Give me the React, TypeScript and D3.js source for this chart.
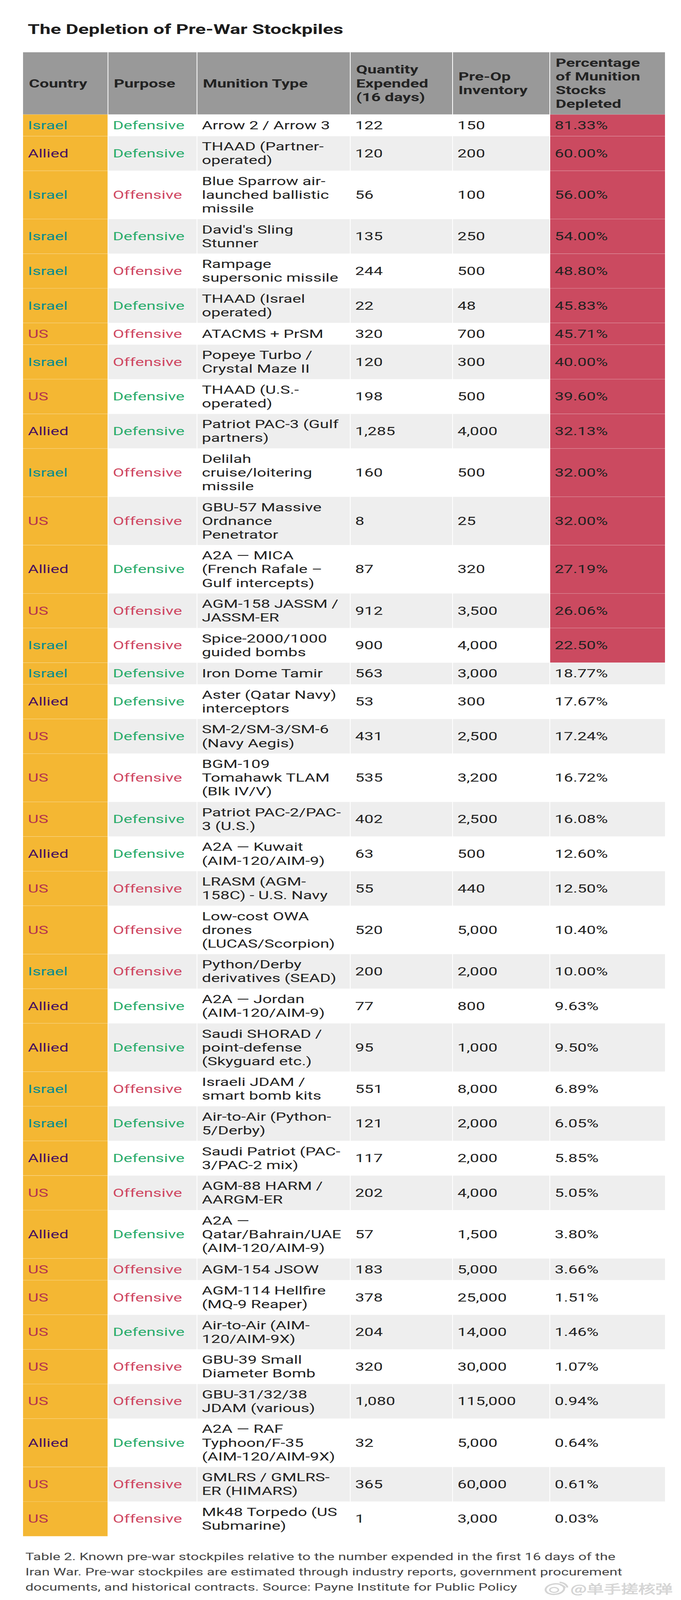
import React, { useEffect, useRef } from 'react';
import * as d3 from 'd3';

const title = 'The Depletion of Pre-War Stockpiles';

const headers = [
  ['Country'],
  ['Purpose'],
  ['Munition Type'],
  ['Quantity', 'Expended', '(16 days)'],
  ['Pre-Op', 'Inventory'],
  ['Percentage', 'of Munition', 'Stocks', 'Depleted'],
];

const countries = [
  'Israel', 'Allied', 'Israel', 'Israel', 'Israel', 'Israel', 'US', 'Israel', 'US', 'Allied',
  'Israel', 'US', 'Allied', 'US', 'Israel', 'Israel', 'Allied', 'US', 'US', 'US',
  'Allied', 'US', 'US', 'Israel', 'Allied', 'Allied', 'Israel', 'Israel', 'Allied', 'US',
  'Allied', 'US', 'US', 'US', 'US', 'US', 'Allied', 'US', 'US',
];

const purposes = [
  'Defensive', 'Defensive', 'Offensive', 'Defensive', 'Offensive', 'Defensive', 'Offensive', 'Offensive', 'Defensive', 'Defensive',
  'Offensive', 'Offensive', 'Defensive', 'Offensive', 'Offensive', 'Defensive', 'Defensive', 'Defensive', 'Offensive', 'Defensive',
  'Defensive', 'Offensive', 'Offensive', 'Offensive', 'Defensive', 'Defensive', 'Offensive', 'Defensive', 'Defensive', 'Offensive',
  'Defensive', 'Offensive', 'Offensive', 'Defensive', 'Offensive', 'Offensive', 'Defensive', 'Offensive', 'Offensive',
];

const munitions = [
  ['Arrow 2 / Arrow 3'],
  ['THAAD (Partner-', 'operated)'],
  ['Blue Sparrow air-', 'launched ballistic', 'missile'],
  ["David's Sling", 'Stunner'],
  ['Rampage', 'supersonic missile'],
  ['THAAD (Israel', 'operated)'],
  ['ATACMS + PrSM'],
  ['Popeye Turbo /', 'Crystal Maze II'],
  ['THAAD (U.S.-', 'operated)'],
  ['Patriot PAC-3 (Gulf', 'partners)'],
  ['Delilah', 'cruise/loitering', 'missile'],
  ['GBU-57 Massive', 'Ordnance', 'Penetrator'],
  ['A2A — MICA', '(French Rafale –', 'Gulf intercepts)'],
  ['AGM-158 JASSM /', 'JASSM-ER'],
  ['Spice-2000/1000', 'guided bombs'],
  ['Iron Dome Tamir'],
  ['Aster (Qatar Navy)', 'interceptors'],
  ['SM-2/SM-3/SM-6', '(Navy Aegis)'],
  ['BGM-109', 'Tomahawk TLAM', '(Blk IV/V)'],
  ['Patriot PAC-2/PAC-', '3 (U.S.)'],
  ['A2A — Kuwait', '(AIM-120/AIM-9)'],
  ['LRASM (AGM-', '158C) - U.S. Navy'],
  ['Low-cost OWA', 'drones', '(LUCAS/Scorpion)'],
  ['Python/Derby', 'derivatives (SEAD)'],
  ['A2A — Jordan', '(AIM-120/AIM-9)'],
  ['Saudi SHORAD /', 'point-defense', '(Skyguard etc.)'],
  ['Israeli JDAM /', 'smart bomb kits'],
  ['Air-to-Air (Python-', '5/Derby)'],
  ['Saudi Patriot (PAC-', '3/PAC-2 mix)'],
  ['AGM-88 HARM /', 'AARGM-ER'],
  ['A2A —', 'Qatar/Bahrain/UAE', '(AIM-120/AIM-9)'],
  ['AGM-154 JSOW'],
  ['AGM-114 Hellfire', '(MQ-9 Reaper)'],
  ['Air-to-Air (AIM-', '120/AIM-9X)'],
  ['GBU-39 Small', 'Diameter Bomb'],
  ['GBU-31/32/38', 'JDAM (various)'],
  ['A2A — RAF', 'Typhoon/F-35', '(AIM-120/AIM-9X)'],
  ['GMLRS / GMLRS-', 'ER (HIMARS)'],
  ['Mk48 Torpedo (US', 'Submarine)'],
];

const expended = [
  122, 120, 56, 135, 244, 22, 320, 120, 198, 1285,
  160, 8, 87, 912, 900, 563, 53, 431, 535, 402,
  63, 55, 520, 200, 77, 95, 551, 121, 117, 202,
  57, 183, 378, 204, 320, 1080, 32, 365, 1,
];

const inventory = [
  150, 200, 100, 250, 500, 48, 700, 300, 500, 4000,
  500, 25, 320, 3500, 4000, 3000, 300, 2500, 3200, 2500,
  500, 440, 5000, 2000, 800, 1000, 8000, 2000, 2000, 4000,
  1500, 5000, 25000, 14000, 30000, 115000, 5000, 60000, 3000,
];

const depleted = [
  81.33, 60.0, 56.0, 54.0, 48.8, 45.83, 45.71, 40.0, 39.6, 32.13,
  32.0, 32.0, 27.19, 26.06, 22.5, 18.77, 17.67, 17.24, 16.72, 16.08,
  12.6, 12.5, 10.4, 10.0, 9.63, 9.5, 6.89, 6.05, 5.85, 5.05,
  3.8, 3.66, 1.51, 1.46, 1.07, 0.94, 0.64, 0.61, 0.03,
];

const caption = [
  'Table 2. Known pre-war stockpiles relative to the number expended in the first 16 days of the',
  'Iran War. Pre-war stockpiles are estimated through industry reports, government procurement',
  'documents, and historical contracts. Source: Payne Institute for Public Policy',
];

const watermark = '@单手搓核弹';

const FONT = 'Roboto, sans-serif';
const RED_FROM = 20;
const WIDTH = 1744;
const HEIGHT = 5878;

const App: React.FC = () => {
  const svgRef = useRef<SVGSVGElement>(null);

  useEffect(() => {
    if (!svgRef.current) return;

    document.body.style.margin = '0';

    const svg = d3.select(svgRef.current);
    svg.selectAll('*').remove();

    // Column edges, left to right
    const edges = [59, 276.5, 504.5, 897, 1159, 1408, 1703];
    const colX = d3.scaleOrdinal<number, number>().domain(d3.range(7)).range(edges);

    // Row height only depends on how many lines the munition name wraps to
    const rowHeight = d3.scaleOrdinal<number, number>().domain([1, 2, 3]).range([79.6, 127.2, 177.5]);
    const headerTop = 192;
    const headerBottom = 420.5;
    const rowTops = [headerBottom, ...d3.cumsum(munitions, m => rowHeight(m.length)).map(v => v + headerBottom)];

    const countryColor = d3.scaleOrdinal<string, string>()
      .domain(['Israel', 'Allied', 'US'])
      .range(['#078b8e', '#47105f', '#b5344e']);
    const purposeColor = d3.scaleOrdinal<string, string>()
      .domain(['Defensive', 'Offensive'])
      .range(['#2aac6c', '#cf4762']);

    const lineGap = 50.5;
    const fontSize = 42;
    const capHalf = 14.5;

    const addLines = (
      g: d3.Selection<SVGGElement, unknown, null, undefined>,
      lines: string[],
      x: number,
      mid: number,
      color: string,
      weight: number,
    ) => {
      lines.forEach((line, i) => {
        g.append('text')
          .attr('x', x)
          .attr('y', mid + capHalf + (i - (lines.length - 1) / 2) * lineGap)
          .attr('fill', color)
          .attr('font-family', FONT)
          .attr('font-size', fontSize)
          .attr('font-weight', weight)
          .text(line);
      });
    };

    svg.append('rect').attr('width', WIDTH).attr('height', HEIGHT).attr('fill', '#ffffff');

    // Title
    svg.append('text')
      .attr('x', 71)
      .attr('y', 125)
      .attr('fill', '#1c1c1c')
      .attr('font-family', FONT)
      .attr('font-size', 49.5)
      .attr('font-weight', 700)
      .text(title);

    // Header
    const head = svg.append('g');
    headers.forEach((lines, c) => {
      head.append('rect')
        .attr('x', colX(c))
        .attr('y', headerTop)
        .attr('width', colX(c + 1) - colX(c))
        .attr('height', headerBottom - headerTop)
        .attr('fill', '#999999');
      addLines(head, lines, colX(c) + 15, (headerTop + headerBottom) / 2, '#232323', 700);
    });

    // Body rows
    const body = svg.append('g');
    munitions.forEach((lines, r) => {
      const y0 = rowTops[r];
      const y1 = rowTops[r + 1];
      const mid = (y0 + y1) / 2;
      const rowFill = r % 2 === 0 ? '#ffffff' : '#eeeeee';

      d3.range(6).forEach(c => {
        let cellFill = rowFill;
        if (c === 0) cellFill = '#f4b733';
        if (c === 5 && depleted[r] >= RED_FROM) cellFill = '#cb4a60';
        body.append('rect')
          .attr('x', colX(c))
          .attr('y', y0)
          .attr('width', colX(c + 1) - colX(c))
          .attr('height', y1 - y0)
          .attr('fill', cellFill);
      });

      const textX = (c: number) => colX(c) + 12.5;
      addLines(body, [countries[r]], textX(0), mid, countryColor(countries[r]), 400);
      addLines(body, [purposes[r]], textX(1), mid, purposeColor(purposes[r]), 400);
      addLines(body, lines, textX(2), mid, '#222222', 400);
      addLines(body, [d3.format(',')(expended[r])], textX(3), mid, '#222222', 400);
      addLines(body, [d3.format(',')(inventory[r])], textX(4), mid, '#222222', 400);
      addLines(body, [d3.format('.2f')(depleted[r]) + '%'], textX(5), mid, '#222222', 400);
    });

    // Thin separators
    const rules = svg.append('g');
    edges.slice(1, 6).forEach(x => {
      rules.append('line')
        .attr('x1', x).attr('x2', x)
        .attr('y1', headerTop).attr('y2', rowTops[rowTops.length - 1])
        .attr('stroke', '#ffffff')
        .attr('stroke-width', 2);
    });
    rowTops.slice(0, -1).forEach(y => {
      rules.append('line')
        .attr('x1', edges[0]).attr('x2', edges[6])
        .attr('y1', y).attr('y2', y)
        .attr('stroke', '#ffffff')
        .attr('stroke-opacity', 0.35)
        .attr('stroke-width', 1.5);
    });

    // Caption
    caption.forEach((line, i) => {
      svg.append('text')
        .attr('x', 65)
        .attr('y', 5732 + i * 55.8)
        .attr('fill', '#454545')
        .attr('font-family', FONT)
        .attr('font-size', 37)
        .text(line);
    });

    // Watermark
    const mark = svg.append('g').attr('fill', 'none').attr('stroke', '#d4d4d4');
    mark.append('ellipse').attr('cx', 1421).attr('cy', 5838).attr('rx', 24).attr('ry', 19).attr('stroke-width', 5).attr('transform', 'rotate(-15 1421 5838)');
    mark.append('ellipse').attr('cx', 1419).attr('cy', 5841).attr('rx', 11).attr('ry', 9).attr('stroke-width', 4);
    mark.append('path').attr('d', 'M1433 5813 A 22 22 0 0 1 1453 5832').attr('stroke-width', 5);
    mark.append('path').attr('d', 'M1435 5824 A 11 11 0 0 1 1447 5834').attr('stroke-width', 4);
    svg.append('text')
      .attr('x', 1461)
      .attr('y', 5853)
      .attr('fill', '#dcdcdc')
      .attr('stroke', '#c8c8c8')
      .attr('stroke-width', 1)
      .attr('font-family', '"Noto Sans CJK SC", sans-serif')
      .attr('font-size', 44)
      .text(watermark);
  }, []);

  // The browser may give us a shorter window than asked for, so fit the full drawing into it
  const shownHeight = Math.min(HEIGHT, window.innerHeight);

  return (
    <svg
      ref={svgRef}
      width={WIDTH}
      height={shownHeight}
      viewBox={`0 0 ${WIDTH} ${HEIGHT}`}
      preserveAspectRatio="none"
      style={{ display: 'block' }}
    />
  );
};

export default App;
